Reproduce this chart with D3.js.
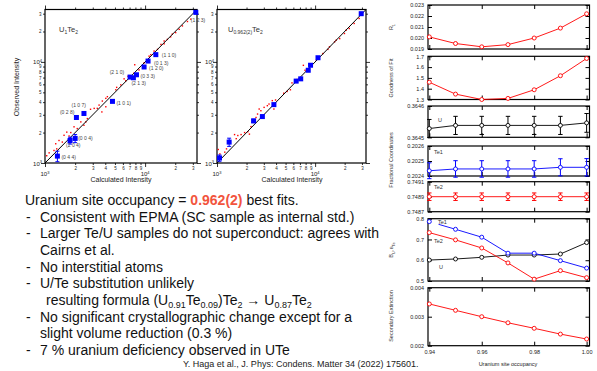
<!DOCTYPE html>
<html><head><meta charset="utf-8">
<script src="https://cdn.jsdelivr.net/npm/d3@7"></script>
<style>
body{margin:0;background:#fff}
svg{display:block;font-family:"Liberation Sans",Arial,Helvetica,sans-serif}
</style>
</head><body>
<svg id="c" width="597" height="371"></svg>
<script>
// ---------------- DATA ----------------
// Left: observed vs calculated intensity
const hklU1 = ["(1 2 3)","(1 1 0)","(0 1 3)","(1 2 0)","(0 3 3)","(2 1 0)","(2 1 3)","(1 0 1)","(1 0 7)","(0 2 8)","(0 0 4)","(2 0 4)","(0 4 4)"];
const calcU1 = [32100,12800,10700,9770,8200,7080,7640,4720,2450,2060,2000,1780,1330];
const obsU1  = [30900,11800,10200,8910,7460,7080,6970,4070,3090,2820,1750,1670,1170];
const errU1  = [0,0,0,0,0,0,0,0,0,0,160,130,140];
const otherU1 = [[1040,1180],[1100,1260],[1280,1550],[1310,1380],[1380,1670],[1550,1880],[1650,2020],[1740,1850],[1810,2000],[2100,2190],[2280,2550],[2560,2550],[2650,2750],[2850,3400],[3100,3470],[3330,3470],[3470,3740],[3740,4100],[4050,4360],[4200,4530],[4050,3600],[5100,5300],[5200,5600],[6170,6800],[6400,6500],[6760,7200],[7760,7760],[7880,9370],[8700,8330],[9770,9770],[10960,11400],[11400,11800],[13300,13300],[14400,14900],[15500,16100],[16700,16700],[18000,17700],[18700,18800],[20200,19500],[21900,21000],[23600,22700],[26500,25100],[28600,26500],[15500,15100],[12300,12800],[3700,3200],[2450,2360],[1950,2280],[1490,1610],[1230,1330],[6920,7040],[7300,6920],[5720,5930],[8060,7460]];

const calcU0962 = [29500,10700,8980,8510,7130,6410,3800,2900,2360,1330,1060];
const obsU0962  = [30000,11000,9270,8270,6800,6460,3780,2880,2610,1610,1120];
const errU0962  = [0,0,0,0,0,0,0,0,100,150,80];
const otherU0962 = [[1030,1360],[1070,1230],[1200,1280],[1250,1380],[1510,1910],[1570,1740],[1630,1870],[1760,1910],[1910,2000],[2060,2040],[2140,1930],[2220,2290],[2500,2820],[2590,3050],[2690,3420],[2800,3290],[3020,3550],[3260,3690],[3390,3830],[3660,4140],[3800,3420],[3950,4200],[4790,4900],[5180,5100],[5600,5300],[5810,6200],[7590,9250],[7890,8270],[10300,10400],[12000,12100],[13500,13300],[14000,14100],[15800,15800],[16400,16400],[17800,17000],[19900,19100],[20700,20600],[22300,21400],[25000,24000],[28100,26900],[6540,6700]];

const intensityMinorTicks = [2000,3000,4000,5000,6000,7000,8000,9000,20000,30000];
const intensityDecadeTicks = [1000,10000];

// Right: refinement parameters vs uranium site occupancy
const occupancy = [0.94,0.95,0.96,0.97,0.98,0.99,1.00];
const occupancyTicks = [0.94,0.96,0.98,1.00];
const R1 = [0.0201,0.0195,0.0192,0.0194,0.0200,0.0209,0.0222];
const goodnessOfFit = [1.46,1.35,1.30,1.31,1.39,1.52,1.68];
const coordU = [0.364528,0.364538,0.364538,0.364538,0.364538,0.364538,0.364546];
const coordUErr = [0.000029,0.000029,0.000029,0.000029,0.000029,0.000029,0.00003];
const coordTe1 = [0.202435,0.202447,0.202447,0.202447,0.202447,0.202458,0.202458];
const coordTe1Err = [0.000053,0.000055,0.000055,0.000055,0.000055,0.000057,0.000058];
const coordTe2 = [0.7489,0.7489,0.7489,0.7489,0.7489,0.7489,0.7489];
const coordTe2Err = [0.00005,0.00005,0.00005,0.00005,0.00005,0.00005,0.00005];
const bU   = [0.601,0.606,0.614,0.625,0.625,0.630,0.685];
const bTe1 = [0.786,0.749,0.711,0.634,0.634,0.598,0.562];
const bTe2 = [0.733,0.698,0.659,0.587,0.509,0.550,0.516];
const secondaryExtinction = [0.00344,0.00322,0.00300,0.00279,0.00260,0.00240,0.00223];

// ---------------- DRAW ----------------
const svg = d3.select("#c");
const RED = "#ff0000", BLUE = "#0000ff";

function scatterPanel(xr, yr, dots, calc, obs, err, labels, offs) {
  const xs = d3.scaleLog().domain([1000,33000]).range(xr);
  const ys = d3.scaleLog().domain([1000,33000]).range(yr);
  const g = svg.append("g");
  const clean = s => s.call(a => a.select(".domain").remove());
  const minorFmt = d => String(d >= 10000 ? d/10000 : d/1000);
  // bottom
  g.append("g").attr("transform",`translate(0,${yr[0]})`)
    .call(d3.axisBottom(xs).tickValues(intensityMinorTicks).tickSize(2).tickPadding(1.5).tickFormat(minorFmt)).call(clean);
  g.append("g").attr("transform",`translate(0,${yr[0]})`)
    .call(d3.axisBottom(xs).tickValues(intensityDecadeTicks).tickSize(4).tickFormat("")).call(clean);
  // top
  g.append("g").attr("transform",`translate(0,${yr[1]})`)
    .call(d3.axisTop(xs).tickValues(intensityMinorTicks).tickSize(2).tickFormat("")).call(clean);
  g.append("g").attr("transform",`translate(0,${yr[1]})`)
    .call(d3.axisTop(xs).tickValues(intensityDecadeTicks).tickSize(4).tickFormat("")).call(clean);
  // left
  g.append("g").attr("transform",`translate(${xr[0]},0)`)
    .call(d3.axisLeft(ys).tickValues(intensityMinorTicks).tickSize(2).tickPadding(1.5).tickFormat(minorFmt)).call(clean);
  g.append("g").attr("transform",`translate(${xr[0]},0)`)
    .call(d3.axisLeft(ys).tickValues(intensityDecadeTicks).tickSize(4).tickFormat("")).call(clean);
  // right
  g.append("g").attr("transform",`translate(${xr[1]},0)`)
    .call(d3.axisRight(ys).tickValues(intensityMinorTicks).tickSize(2).tickFormat("")).call(clean);
  g.append("g").attr("transform",`translate(${xr[1]},0)`)
    .call(d3.axisRight(ys).tickValues(intensityDecadeTicks).tickSize(4).tickFormat("")).call(clean);
  g.selectAll(".tick line").attr("stroke","#000").attr("stroke-width",0.8);
  g.selectAll(".tick text").attr("font-size",4.5).attr("fill","#222").attr("font-family","Liberation Sans, Arial, sans-serif");
  // decade labels
  intensityDecadeTicks.forEach(d => {
    const e = Math.round(Math.log10(d));
    const t = g.append("text").attr("x", xs(d)).attr("y", yr[0]+13).attr("text-anchor","middle").attr("font-size",6).attr("fill","#222");
    t.append("tspan").text("10");
    t.append("tspan").attr("font-size",4).attr("dy",-2.5).text(e);
    const t2 = g.append("text").attr("x", xr[0]-3).attr("y", ys(d)+2.5).attr("text-anchor","end").attr("font-size",6).attr("fill","#222");
    t2.append("tspan").text("10");
    t2.append("tspan").attr("font-size",4).attr("dy",-2.5).text(e);
  });
  // frame
  g.append("rect").attr("x",xr[0]).attr("y",yr[1]).attr("width",xr[1]-xr[0]).attr("height",yr[0]-yr[1])
    .attr("fill","none").attr("stroke","#000").attr("stroke-width",1.2);
  // red dots
  g.selectAll("rect.dot").data(dots).join("rect").attr("class","dot")
    .attr("x",d=>xs(d[0])-0.7).attr("y",d=>ys(d[1])-0.7).attr("width",1.4).attr("height",1.4).attr("fill",RED);
  // diagonal
  g.append("line").attr("x1",xs(1000)).attr("y1",ys(1000)).attr("x2",xs(33000)).attr("y2",ys(33000))
    .attr("stroke","#000").attr("stroke-width",1);
  // blue reflections
  calc.forEach((c,i) => {
    const x = xs(c), y = ys(obs[i]);
    if (err[i] > 0) {
      const y1 = ys(obs[i]-err[i]), y2 = ys(obs[i]+err[i]);
      g.append("line").attr("x1",x).attr("x2",x).attr("y1",y1).attr("y2",y2).attr("stroke",BLUE).attr("stroke-width",1);
      [y1,y2].forEach(yy => g.append("line").attr("x1",x-2).attr("x2",x+2).attr("y1",yy).attr("y2",yy).attr("stroke",BLUE).attr("stroke-width",1));
    }
    g.append("rect").attr("x",x-2.5).attr("y",y-2.5).attr("width",5).attr("height",5).attr("fill",BLUE);
    if (labels) {
      const o = offs[i];
      g.append("text").attr("x",x+o[0]).attr("y",y+o[1]).attr("text-anchor",o[2]).attr("font-size",5).attr("fill","#444").text(labels[i]);
    }
  });
  return g;
}

// label offsets [dx, dy, anchor] for the hkl annotations
const hklOffsets = [[-5,10,"start"],[6,2.5,"start"],[6,4,"start"],[5,3,"start"],[4,3,"start"],[-6,-3,"end"],[-2,7,"start"],[4,3.5,"start"],[2,-6,"end"],[-2,-3,"end"],[3,1.5,"start"],[-4,7,"start"],[4,2.5,"start"]];

scatterPanel([45,197],[163,9.5], otherU1, calcU1, obsU1, errU1, hklU1, hklOffsets);
scatterPanel([217,366],[163,9.5], otherU0962, calcU0962, obsU0962, errU0962, null, null);

// panel titles
{
  const t = svg.append("text").attr("x",59).attr("y",32).attr("font-size",7.5).attr("fill","#333");
  t.append("tspan").text("U");
  t.append("tspan").attr("font-size",5).attr("dy",2).text("1");
  t.append("tspan").attr("dy",-2).text("Te");
  t.append("tspan").attr("font-size",5).attr("dy",2).text("2");
  const t2 = svg.append("text").attr("x",228).attr("y",32).attr("font-size",7.5).attr("fill","#333");
  t2.append("tspan").text("U");
  t2.append("tspan").attr("font-size",5).attr("dy",2).text("0.962(2)");
  t2.append("tspan").attr("dy",-2).text("Te");
  t2.append("tspan").attr("font-size",5).attr("dy",2).text("2");
}
svg.append("text").attr("transform","translate(19,87) rotate(-90)").attr("text-anchor","middle").attr("font-size",7).attr("fill","#222").text("Observed Intensity");
svg.append("text").attr("x",121).attr("y",182).attr("text-anchor","middle").attr("font-size",7).attr("fill","#222").text("Calculated Intensity");
svg.append("text").attr("x",292).attr("y",182).attr("text-anchor","middle").attr("font-size",7).attr("fill","#222").text("Calculated Intensity");

// ---------- right stacked panels ----------
const xo = d3.scaleLinear().domain([0.9395,1.0011]).range([428,589.5]);
const rPanels = [
  {top:5, bottom:49, domain:[0.019,0.023], ticks:[0.019,0.020,0.021,0.022,0.023], fmt:d3.format(".3f"),
   series:[{v:R1, c:RED}]},
  {top:56.3, bottom:99.5, domain:[1.3,1.7], ticks:[1.3,1.4,1.5,1.6,1.7], fmt:d3.format(".1f"),
   series:[{v:goodnessOfFit, c:RED}]},
  {top:106, bottom:137.3, domain:[0.3645,0.3646], ticks:[0.3645,0.3646], fmt:d3.format(".4f"),
   series:[{v:coordU, e:coordUErr, c:"#000"}], note:[["U",438,122]]},
  {top:146, bottom:176, domain:[0.2024,0.2026], ticks:[0.2024,0.2025,0.2026], fmt:d3.format(".4f"),
   series:[{v:coordTe1, e:coordTe1Err, c:BLUE}], note:[["Te1",434,154]]},
  {top:181.7, bottom:211.7, domain:[0.7487,0.7491], ticks:[0.7487,0.7489,0.7491], fmt:d3.format(".4f"),
   series:[{v:coordTe2, e:coordTe2Err, c:RED}], note:[["Te2",434,189]]},
  {top:218.7, bottom:281, domain:[0.5,0.8], ticks:[0.5,0.6,0.7,0.8], fmt:d3.format(".1f"),
   series:[{v:bU, c:"#000"},{v:bTe2, c:RED},{v:bTe1, c:BLUE, gap:true}], note:[["Te1",438,224,true],["Te2",434,243],["U",439,269]]},
  {top:287.7, bottom:345.7, domain:[0.002,0.004], ticks:[0.002,0.003,0.004], fmt:d3.format(".3f"),
   series:[{v:secondaryExtinction, c:RED}], xlabels:true}
];

rPanels.forEach(p => {
  const ys = d3.scaleLinear().domain(p.domain).range([p.bottom,p.top]);
  const g = svg.append("g");
  const clean = s => s.call(a => a.select(".domain").remove());
  g.append("g").attr("transform","translate(428,0)")
    .call(d3.axisLeft(ys).tickValues(p.ticks).tickSize(-4).tickPadding(4).tickFormat(p.fmt)).call(clean);
  g.append("g").attr("transform","translate(589.5,0)")
    .call(d3.axisRight(ys).tickValues(p.ticks).tickSize(-4).tickFormat("")).call(clean);
  g.append("g").attr("transform",`translate(0,${p.top})`)
    .call(d3.axisTop(xo).tickValues(occupancyTicks).tickSize(-4).tickFormat("")).call(clean);
  g.append("g").attr("transform",`translate(0,${p.bottom})`)
    .call(d3.axisBottom(xo).tickValues(occupancyTicks).tickSize(-4).tickPadding(4).tickFormat(p.xlabels ? d3.format(".2f") : "")).call(clean);
  g.selectAll(".tick line").attr("stroke","#000").attr("stroke-width",1);
  g.selectAll(".tick text").attr("font-size",5.5).attr("fill","#222").attr("font-family","Liberation Sans, Arial, sans-serif");
  g.append("rect").attr("x",428).attr("y",p.top).attr("width",161.5).attr("height",p.bottom-p.top)
    .attr("fill","none").attr("stroke","#000").attr("stroke-width",1.2);
  p.series.forEach(s => {
    const pts = occupancy.map((o,i) => [xo(o), ys(s.v[i])]);
    const linePts = s.gap ? pts.slice(1) : pts;
    let path = d3.line()(linePts);
    g.append("path").attr("d",path).attr("fill","none").attr("stroke",s.c).attr("stroke-width",0.9);
    if (s.gap) {
      // partial segment from label to second point
      const a = pts[0], b = pts[1], t = 0.35;
      g.append("line").attr("x1",a[0]+(b[0]-a[0])*t).attr("y1",a[1]+(b[1]-a[1])*t).attr("x2",b[0]).attr("y2",b[1])
        .attr("stroke",s.c).attr("stroke-width",0.9);
    }
    if (s.e) {
      occupancy.forEach((o,i) => {
        const x = xo(o), y1 = ys(s.v[i]-s.e[i]), y2 = ys(s.v[i]+s.e[i]);
        g.append("line").attr("x1",x).attr("x2",x).attr("y1",y1).attr("y2",y2).attr("stroke",s.c).attr("stroke-width",1);
        [y1,y2].forEach(yy => g.append("line").attr("x1",x-2.2).attr("x2",x+2.2).attr("y1",yy).attr("y2",yy).attr("stroke",s.c).attr("stroke-width",1));
      });
    }
    g.selectAll(null).data(pts).join("circle").attr("cx",d=>d[0]).attr("cy",d=>d[1]).attr("r",2)
      .attr("fill","#fff").attr("stroke",s.c).attr("stroke-width",0.9);
  });
  (p.note||[]).forEach(n => {
    g.append("text").attr("x",n[1]).attr("y",n[2]).attr("font-size",5.5).attr("fill","#333").text(n[0]);
  });
});

// right y titles
function yTitle(y, parts) {
  const t = svg.append("text").attr("transform",`translate(393,${y}) rotate(-90)`).attr("text-anchor","middle").attr("font-size",5.5).attr("fill","#333");
  parts.forEach(p => { const s = t.append("tspan").text(p[0]); if (p[1]) s.attr("font-size",4).attr("dy",p[1]); });
}
yTitle(27, [["R"],["1",1.5]]);
yTitle(78, [["Goodness of Fit"]]);
yTitle(160, [["Fractional Coordinates"]]);
yTitle(250, [["B"],["U",1.5],[", B",-1.5],["Te",1.5]]);
yTitle(316, [["Secondary Extinction"]]);
svg.append("text").attr("x",508).attr("y",366).attr("text-anchor","middle").attr("font-size",5.5).attr("fill","#222").text("Uranium site occupancy");

// ---------- text block ----------
const lines = [
  {x:25, y:205, parts:[["Uranium site occupancy = "],["0.962(2)","bold"],[" best fits."]]},
  {x:40, y:221.7, dash:true, parts:[["Consistent with EPMA (SC sample as internal std.)"]]},
  {x:40, y:238.3, dash:true, parts:[["Larger Te/U samples do not superconduct: agrees with"]]},
  {x:40, y:255, parts:[["Cairns et al."]]},
  {x:40, y:271.7, dash:true, parts:[["No interstitial atoms"]]},
  {x:40, y:288.3, dash:true, parts:[["U/Te substitution unlikely"]]},
  {x:46, y:305, parts:[["resulting formula (U"],["0.91","sub"],["Te"],["0.09","sub"],[")Te"],["2","sub"],[" \u2192 U"],["0.87","sub"],["Te"],["2","sub"]]},
  {x:40, y:321.7, dash:true, parts:[["No significant crystallographic change except for a"]]},
  {x:40, y:338.3, parts:[["slight volume reduction (0.3 %)"]]},
  {x:40, y:355, dash:true, parts:[["7 % uranium deficiency observed in UTe"]]}
];
lines.forEach(l => {
  if (l.dash) svg.append("text").attr("x",26).attr("y",l.y).attr("font-size",14).attr("fill","#111").text("-");
  const t = svg.append("text").attr("x",l.x).attr("y",l.y).attr("font-size",14).attr("fill","#111");
  let sub = false;
  l.parts.forEach(p => {
    const s = t.append("tspan").text(p[0]);
    if (p[1] === "bold") s.attr("font-weight","bold").attr("fill","#f2543d");
    if (p[1] === "sub") { s.attr("font-size",9).attr("dy", sub ? 0 : 3); sub = true; }
    else if (sub) { s.attr("dy",-3); sub = false; }
  });
});
svg.append("text").attr("x",183).attr("y",367).attr("font-size",9).attr("fill","#222")
  .text("Y. Haga et al., J. Phys: Condens. Matter 34 (2022) 175601.");
</script>
</body></html>
